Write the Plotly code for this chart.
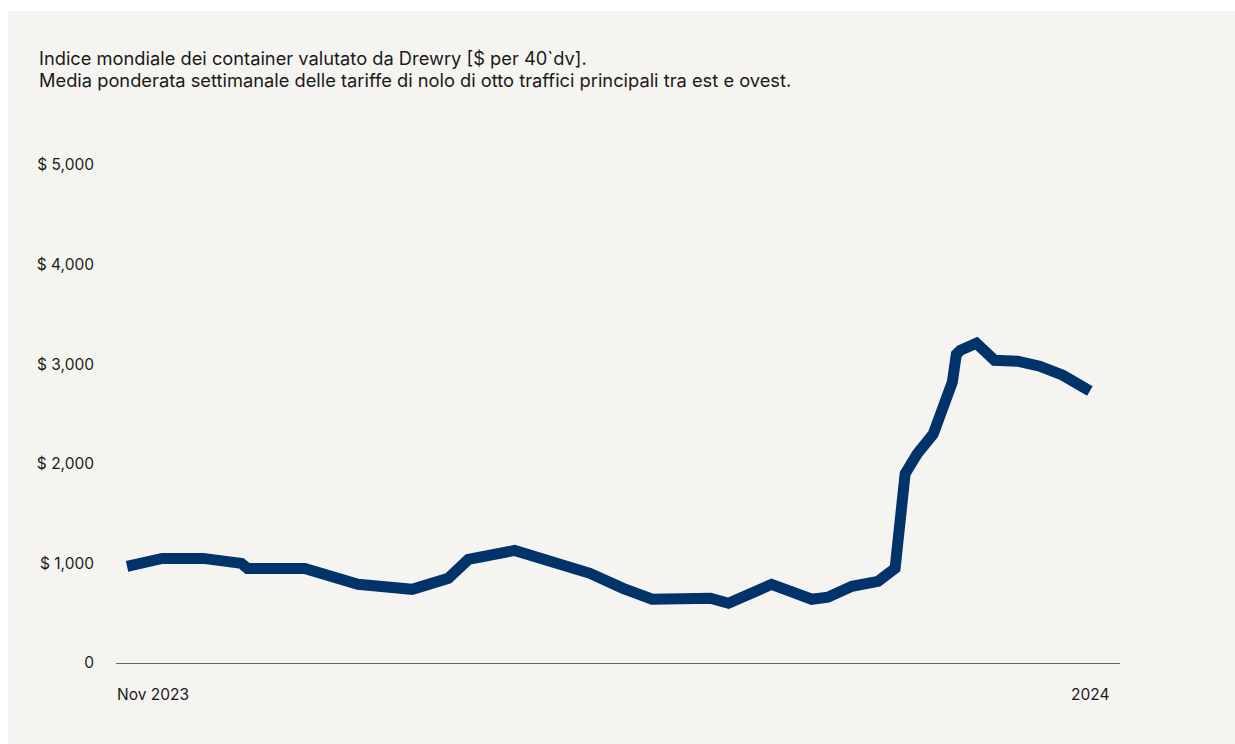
import plotly.graph_objects as go

# x positions on a 0..100 axis scale (time progression), y in $ per 40' container
x_pos = [1.1, 4.6, 8.7, 12.5, 13.1, 18.8, 24.1, 29.5, 33.1, 35.1, 39.7, 44.4, 47.2, 50.5,
         53.4, 59.2, 61.0, 65.3, 69.3, 70.9, 73.3, 75.9, 77.6, 78.6, 79.8, 81.4, 83.3,
         83.7, 84.1, 85.7, 87.5, 89.8, 92.0, 94.3, 97.0]
rates = [970, 1050, 1050, 1000, 950, 950, 790, 740, 850, 1040, 1130, 1000, 900, 750,
         640, 650, 600, 790, 640, 660, 770, 820, 950, 1900, 2100, 2300, 2820,
         3100, 3140, 3210, 3040, 3030, 2980, 2890, 2730]

y_tickvals = [0, 1000, 2000, 3000, 4000, 5000]
y_ticktext = ["0", "$ 1,000", "$ 2,000", "$ 3,000", "$ 4,000", "$ 5,000"]
x_labels = ["Nov 2023", "2024"]

title_lines = [
    "Indice mondiale dei container valutato da Drewry [$ per 40`dv].",
    "Media ponderata settimanale delle tariffe di nolo di otto traffici principali tra est e ovest.",
]

BG = "#f5f4f0"
LINE = "#00336a"
TXT = "#1a1a1a"
FONT = "Inter, Liberation Sans, sans-serif"

fig = go.Figure()
fig.add_trace(go.Scatter(
    x=x_pos, y=rates, mode="lines",
    line=dict(color=LINE, width=11, shape="linear"),
    hoverinfo="skip", showlegend=False,
))

W, H = 1235, 744
L, R, T, B = 116, 115, 165, 81
pw = W - L - R
ph = H - T - B


def px_x(p):
    return (p - L) / pw


def px_y(p):
    return 1 - (p - T) / ph


annotations = [
    dict(text=title_lines[0], xref="paper", yref="paper", x=px_x(36.5), y=px_y(58),
         xanchor="left", yanchor="middle", showarrow=False,
         font=dict(size=18.3, family=FONT, color=TXT)),
    dict(text=title_lines[1], xref="paper", yref="paper", x=px_x(36.5), y=px_y(80),
         xanchor="left", yanchor="middle", showarrow=False,
         font=dict(size=18.3, family=FONT, color=TXT)),
    dict(text=x_labels[0], xref="paper", yref="paper", x=px_x(115), y=px_y(683),
         xanchor="left", yanchor="top", showarrow=False,
         font=dict(size=15.5, family=FONT, color=TXT)),
    dict(text=x_labels[1], xref="x", yref="paper", x=x_pos[-1], y=px_y(683),
         xanchor="center", yanchor="top", showarrow=False,
         font=dict(size=15.5, family=FONT, color=TXT)),
]

fig.update_layout(
    width=W, height=H,
    margin=dict(l=L, r=R, t=T, b=B),
    paper_bgcolor=BG,
    plot_bgcolor="rgba(0,0,0,0)",
    font=dict(family=FONT, color=TXT, size=15),
    xaxis=dict(
        range=[0, 100], showgrid=False, zeroline=False,
        showticklabels=False, ticks="",
        showline=True, linecolor="#666666", linewidth=1.2,
        fixedrange=True,
    ),
    yaxis=dict(
        range=[0, 5000], showgrid=False, zeroline=False,
        tickvals=y_tickvals, ticktext=y_ticktext,
        ticks="", ticklabelstandoff=21,
        tickfont=dict(size=15.5, family=FONT, color=TXT),
        showline=False, fixedrange=True,
    ),
    shapes=[
        dict(type="rect", xref="paper", yref="paper", layer="below",
             x0=px_x(-5), x1=px_x(8), y0=px_y(H + 5), y1=px_y(-5),
             fillcolor="white", line=dict(width=0)),
        dict(type="rect", xref="paper", yref="paper", layer="below",
             x0=px_x(-5), x1=px_x(W + 5), y0=px_y(11), y1=px_y(-5),
             fillcolor="white", line=dict(width=0)),
    ],
    annotations=annotations,
)

fig.write_html(
    "out.html",
    config={"displayModeBar": False},
    post_script="document.body.style.margin='0';document.body.style.overflow='hidden';",
)
